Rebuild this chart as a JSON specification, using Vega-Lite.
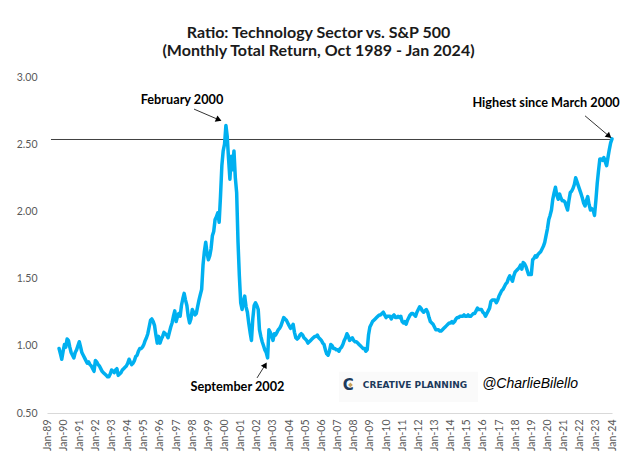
{
  "$schema": "https://vega.github.io/schema/vega-lite/v6.json",
  "width": 565,
  "height": 336,
  "autosize": "none",
  "padding": {"left": 47, "top": 77, "right": 28, "bottom": 56},
  "background": "white",
  "title": {
    "text": ["Ratio: Technology Sector vs. S&P 500", "(Monthly Total Return, Oct 1989 - Jan 2024)"],
    "font": "Lato",
    "fontSize": 16,
    "fontWeight": "bold",
    "color": "#1a1a1a",
    "lineHeight": 18,
    "anchor": "middle",
    "dx": -11,
    "offset": 13
  },
  "config": {"view": {"stroke": null}, "axis": {"grid": false}},
  "datasets": {
    "s": [
      {"d":"1989-10-01","v":0.98},{"d":"1989-11-01","v":0.94},{"d":"1989-12-01","v":0.90},
      {"d":"1990-01-01","v":0.96},{"d":"1990-02-01","v":1.01},{"d":"1990-03-01","v":0.99},{"d":"1990-04-01","v":1.05},{"d":"1990-05-01","v":1.04},{"d":"1990-06-01","v":0.99},{"d":"1990-07-01","v":0.95},{"d":"1990-08-01","v":0.93},{"d":"1990-09-01","v":0.91},{"d":"1990-10-01","v":0.95},{"d":"1990-11-01","v":0.97},{"d":"1990-12-01","v":1.00},
      {"d":"1991-01-01","v":1.03},{"d":"1991-02-01","v":0.99},{"d":"1991-03-01","v":0.95},{"d":"1991-04-01","v":0.93},{"d":"1991-05-01","v":0.91},{"d":"1991-06-01","v":0.89},{"d":"1991-07-01","v":0.87},{"d":"1991-08-01","v":0.88},{"d":"1991-09-01","v":0.86},{"d":"1991-10-01","v":0.85},{"d":"1991-11-01","v":0.83},{"d":"1991-12-01","v":0.81},
      {"d":"1992-01-01","v":0.89},{"d":"1992-02-01","v":0.88},{"d":"1992-03-01","v":0.86},{"d":"1992-04-01","v":0.85},{"d":"1992-05-01","v":0.83},{"d":"1992-06-01","v":0.81},{"d":"1992-07-01","v":0.80},{"d":"1992-08-01","v":0.79},{"d":"1992-09-01","v":0.78},{"d":"1992-10-01","v":0.77},{"d":"1992-11-01","v":0.77},{"d":"1992-12-01","v":0.79},
      {"d":"1993-01-01","v":0.82},{"d":"1993-02-01","v":0.81},{"d":"1993-03-01","v":0.80},{"d":"1993-04-01","v":0.82},{"d":"1993-05-01","v":0.83},{"d":"1993-06-01","v":0.78},{"d":"1993-07-01","v":0.79},{"d":"1993-08-01","v":0.80},{"d":"1993-09-01","v":0.82},{"d":"1993-10-01","v":0.83},{"d":"1993-11-01","v":0.84},{"d":"1993-12-01","v":0.85},
      {"d":"1994-01-01","v":0.87},{"d":"1994-02-01","v":0.90},{"d":"1994-03-01","v":0.88},{"d":"1994-04-01","v":0.86},{"d":"1994-05-01","v":0.87},{"d":"1994-06-01","v":0.89},{"d":"1994-07-01","v":0.92},{"d":"1994-08-01","v":0.93},{"d":"1994-09-01","v":0.96},{"d":"1994-10-01","v":0.98},{"d":"1994-11-01","v":0.98},{"d":"1994-12-01","v":0.99},
      {"d":"1995-01-01","v":1.01},{"d":"1995-02-01","v":1.04},{"d":"1995-03-01","v":1.06},{"d":"1995-04-01","v":1.09},{"d":"1995-05-01","v":1.14},{"d":"1995-06-01","v":1.19},{"d":"1995-07-01","v":1.20},{"d":"1995-08-01","v":1.18},{"d":"1995-09-01","v":1.15},{"d":"1995-10-01","v":1.08},{"d":"1995-11-01","v":1.02},{"d":"1995-12-01","v":1.07},
      {"d":"1996-01-01","v":1.02},{"d":"1996-02-01","v":1.05},{"d":"1996-03-01","v":1.07},{"d":"1996-04-01","v":1.10},{"d":"1996-05-01","v":1.09},{"d":"1996-06-01","v":1.08},{"d":"1996-07-01","v":1.06},{"d":"1996-08-01","v":1.10},{"d":"1996-09-01","v":1.14},{"d":"1996-10-01","v":1.17},{"d":"1996-11-01","v":1.22},{"d":"1996-12-01","v":1.26},
      {"d":"1997-01-01","v":1.18},{"d":"1997-02-01","v":1.22},{"d":"1997-03-01","v":1.24},{"d":"1997-04-01","v":1.22},{"d":"1997-05-01","v":1.30},{"d":"1997-06-01","v":1.35},{"d":"1997-07-01","v":1.39},{"d":"1997-08-01","v":1.34},{"d":"1997-09-01","v":1.30},{"d":"1997-10-01","v":1.22},{"d":"1997-11-01","v":1.17},{"d":"1997-12-01","v":1.20},
      {"d":"1998-01-01","v":1.27},{"d":"1998-02-01","v":1.25},{"d":"1998-03-01","v":1.23},{"d":"1998-04-01","v":1.24},{"d":"1998-05-01","v":1.29},{"d":"1998-06-01","v":1.34},{"d":"1998-07-01","v":1.38},{"d":"1998-08-01","v":1.42},{"d":"1998-09-01","v":1.60},{"d":"1998-10-01","v":1.70},{"d":"1998-11-01","v":1.77},{"d":"1998-12-01","v":1.69},
      {"d":"1999-01-01","v":1.64},{"d":"1999-02-01","v":1.67},{"d":"1999-03-01","v":1.72},{"d":"1999-04-01","v":1.82},{"d":"1999-05-01","v":1.85},{"d":"1999-06-01","v":1.94},{"d":"1999-07-01","v":1.96},{"d":"1999-08-01","v":1.99},{"d":"1999-09-01","v":1.92},{"d":"1999-10-01","v":2.11},{"d":"1999-11-01","v":2.34},{"d":"1999-12-01","v":2.45},
      {"d":"2000-01-01","v":2.50},{"d":"2000-02-01","v":2.64},{"d":"2000-03-01","v":2.56},{"d":"2000-04-01","v":2.39},{"d":"2000-05-01","v":2.24},{"d":"2000-06-01","v":2.41},{"d":"2000-07-01","v":2.31},{"d":"2000-08-01","v":2.45},{"d":"2000-09-01","v":2.25},{"d":"2000-10-01","v":2.14},{"d":"2000-11-01","v":1.77},{"d":"2000-12-01","v":1.52},
      {"d":"2001-01-01","v":1.32},{"d":"2001-02-01","v":1.27},{"d":"2001-03-01","v":1.33},{"d":"2001-04-01","v":1.37},{"d":"2001-05-01","v":1.29},{"d":"2001-06-01","v":1.25},{"d":"2001-07-01","v":1.17},{"d":"2001-08-01","v":1.10},{"d":"2001-09-01","v":1.04},{"d":"2001-10-01","v":1.20},{"d":"2001-11-01","v":1.30},{"d":"2001-12-01","v":1.32},
      {"d":"2002-01-01","v":1.30},{"d":"2002-02-01","v":1.27},{"d":"2002-03-01","v":1.12},{"d":"2002-04-01","v":1.07},{"d":"2002-05-01","v":1.03},{"d":"2002-06-01","v":1.00},{"d":"2002-07-01","v":0.97},{"d":"2002-08-01","v":0.95},{"d":"2002-09-01","v":0.91},{"d":"2002-10-01","v":1.12},{"d":"2002-11-01","v":1.10},{"d":"2002-12-01","v":1.07},
      {"d":"2003-01-01","v":1.04},{"d":"2003-02-01","v":1.09},{"d":"2003-03-01","v":1.08},{"d":"2003-04-01","v":1.10},{"d":"2003-05-01","v":1.12},{"d":"2003-06-01","v":1.13},{"d":"2003-07-01","v":1.15},{"d":"2003-08-01","v":1.18},{"d":"2003-09-01","v":1.21},{"d":"2003-10-01","v":1.20},{"d":"2003-11-01","v":1.19},{"d":"2003-12-01","v":1.17},
      {"d":"2004-01-01","v":1.15},{"d":"2004-02-01","v":1.13},{"d":"2004-03-01","v":1.14},{"d":"2004-04-01","v":1.16},{"d":"2004-05-01","v":1.10},{"d":"2004-06-01","v":1.06},{"d":"2004-07-01","v":1.05},{"d":"2004-08-01","v":1.06},{"d":"2004-09-01","v":1.08},{"d":"2004-10-01","v":1.09},{"d":"2004-11-01","v":1.08},{"d":"2004-12-01","v":1.06},
      {"d":"2005-01-01","v":1.05},{"d":"2005-02-01","v":1.04},{"d":"2005-03-01","v":1.02},{"d":"2005-04-01","v":1.03},{"d":"2005-05-01","v":1.04},{"d":"2005-06-01","v":1.05},{"d":"2005-07-01","v":1.06},{"d":"2005-08-01","v":1.07},{"d":"2005-09-01","v":1.07},{"d":"2005-10-01","v":1.08},{"d":"2005-11-01","v":1.06},{"d":"2005-12-01","v":1.05},
      {"d":"2006-01-01","v":1.04},{"d":"2006-02-01","v":1.02},{"d":"2006-03-01","v":1.01},{"d":"2006-04-01","v":0.97},{"d":"2006-05-01","v":0.94},{"d":"2006-06-01","v":0.93},{"d":"2006-07-01","v":0.96},{"d":"2006-08-01","v":1.01},{"d":"2006-09-01","v":1.00},{"d":"2006-10-01","v":0.98},{"d":"2006-11-01","v":0.98},{"d":"2006-12-01","v":0.97},
      {"d":"2007-01-01","v":0.97},{"d":"2007-02-01","v":0.96},{"d":"2007-03-01","v":0.98},{"d":"2007-04-01","v":0.99},{"d":"2007-05-01","v":1.01},{"d":"2007-06-01","v":1.04},{"d":"2007-07-01","v":1.06},{"d":"2007-08-01","v":1.09},{"d":"2007-09-01","v":1.07},{"d":"2007-10-01","v":1.04},{"d":"2007-11-01","v":1.05},{"d":"2007-12-01","v":1.06},
      {"d":"2008-01-01","v":1.04},{"d":"2008-02-01","v":1.03},{"d":"2008-03-01","v":1.03},{"d":"2008-04-01","v":1.02},{"d":"2008-05-01","v":1.01},{"d":"2008-06-01","v":1.00},{"d":"2008-07-01","v":0.99},{"d":"2008-08-01","v":0.98},{"d":"2008-09-01","v":0.98},{"d":"2008-10-01","v":0.96},{"d":"2008-11-01","v":0.97},{"d":"2008-12-01","v":1.08},
      {"d":"2009-01-01","v":1.14},{"d":"2009-02-01","v":1.16},{"d":"2009-03-01","v":1.18},{"d":"2009-04-01","v":1.19},{"d":"2009-05-01","v":1.20},{"d":"2009-06-01","v":1.21},{"d":"2009-07-01","v":1.22},{"d":"2009-08-01","v":1.23},{"d":"2009-09-01","v":1.23},{"d":"2009-10-01","v":1.24},{"d":"2009-11-01","v":1.25},{"d":"2009-12-01","v":1.23},
      {"d":"2010-01-01","v":1.21},{"d":"2010-02-01","v":1.22},{"d":"2010-03-01","v":1.22},{"d":"2010-04-01","v":1.22},{"d":"2010-05-01","v":1.20},{"d":"2010-06-01","v":1.22},{"d":"2010-07-01","v":1.23},{"d":"2010-08-01","v":1.21},{"d":"2010-09-01","v":1.21},{"d":"2010-10-01","v":1.22},{"d":"2010-11-01","v":1.21},{"d":"2010-12-01","v":1.22},
      {"d":"2011-01-01","v":1.18},{"d":"2011-02-01","v":1.17},{"d":"2011-03-01","v":1.18},{"d":"2011-04-01","v":1.16},{"d":"2011-05-01","v":1.19},{"d":"2011-06-01","v":1.21},{"d":"2011-07-01","v":1.23},{"d":"2011-08-01","v":1.24},{"d":"2011-09-01","v":1.24},{"d":"2011-10-01","v":1.23},{"d":"2011-11-01","v":1.22},{"d":"2011-12-01","v":1.25},
      {"d":"2012-01-01","v":1.27},{"d":"2012-02-01","v":1.29},{"d":"2012-03-01","v":1.28},{"d":"2012-04-01","v":1.26},{"d":"2012-05-01","v":1.25},{"d":"2012-06-01","v":1.26},{"d":"2012-07-01","v":1.27},{"d":"2012-08-01","v":1.25},{"d":"2012-09-01","v":1.21},{"d":"2012-10-01","v":1.18},{"d":"2012-11-01","v":1.17},{"d":"2012-12-01","v":1.16},
      {"d":"2013-01-01","v":1.14},{"d":"2013-02-01","v":1.12},{"d":"2013-03-01","v":1.12},{"d":"2013-04-01","v":1.12},{"d":"2013-05-01","v":1.11},{"d":"2013-06-01","v":1.11},{"d":"2013-07-01","v":1.12},{"d":"2013-08-01","v":1.13},{"d":"2013-09-01","v":1.14},{"d":"2013-10-01","v":1.15},{"d":"2013-11-01","v":1.16},{"d":"2013-12-01","v":1.17},
      {"d":"2014-01-01","v":1.17},{"d":"2014-02-01","v":1.18},{"d":"2014-03-01","v":1.17},{"d":"2014-04-01","v":1.18},{"d":"2014-05-01","v":1.20},{"d":"2014-06-01","v":1.21},{"d":"2014-07-01","v":1.21},{"d":"2014-08-01","v":1.22},{"d":"2014-09-01","v":1.22},{"d":"2014-10-01","v":1.22},{"d":"2014-11-01","v":1.23},{"d":"2014-12-01","v":1.22},
      {"d":"2015-01-01","v":1.22},{"d":"2015-02-01","v":1.23},{"d":"2015-03-01","v":1.22},{"d":"2015-04-01","v":1.22},{"d":"2015-05-01","v":1.23},{"d":"2015-06-01","v":1.24},{"d":"2015-07-01","v":1.24},{"d":"2015-08-01","v":1.26},{"d":"2015-09-01","v":1.28},{"d":"2015-10-01","v":1.27},{"d":"2015-11-01","v":1.27},{"d":"2015-12-01","v":1.27},
      {"d":"2016-01-01","v":1.25},{"d":"2016-02-01","v":1.24},{"d":"2016-03-01","v":1.22},{"d":"2016-04-01","v":1.24},{"d":"2016-05-01","v":1.26},{"d":"2016-06-01","v":1.28},{"d":"2016-07-01","v":1.33},{"d":"2016-08-01","v":1.34},{"d":"2016-09-01","v":1.34},{"d":"2016-10-01","v":1.34},{"d":"2016-11-01","v":1.32},{"d":"2016-12-01","v":1.34},
      {"d":"2017-01-01","v":1.37},{"d":"2017-02-01","v":1.39},{"d":"2017-03-01","v":1.41},{"d":"2017-04-01","v":1.42},{"d":"2017-05-01","v":1.44},{"d":"2017-06-01","v":1.46},{"d":"2017-07-01","v":1.47},{"d":"2017-08-01","v":1.50},{"d":"2017-09-01","v":1.52},{"d":"2017-10-01","v":1.50},{"d":"2017-11-01","v":1.48},{"d":"2017-12-01","v":1.52},
      {"d":"2018-01-01","v":1.55},{"d":"2018-02-01","v":1.56},{"d":"2018-03-01","v":1.57},{"d":"2018-04-01","v":1.58},{"d":"2018-05-01","v":1.60},{"d":"2018-06-01","v":1.57},{"d":"2018-07-01","v":1.62},{"d":"2018-08-01","v":1.61},{"d":"2018-09-01","v":1.59},{"d":"2018-10-01","v":1.56},{"d":"2018-11-01","v":1.53},{"d":"2018-12-01","v":1.53},
      {"d":"2019-01-01","v":1.53},{"d":"2019-02-01","v":1.64},{"d":"2019-03-01","v":1.65},{"d":"2019-04-01","v":1.67},{"d":"2019-05-01","v":1.66},{"d":"2019-06-01","v":1.68},{"d":"2019-07-01","v":1.69},{"d":"2019-08-01","v":1.70},{"d":"2019-09-01","v":1.72},{"d":"2019-10-01","v":1.74},{"d":"2019-11-01","v":1.77},{"d":"2019-12-01","v":1.82},
      {"d":"2020-01-01","v":1.87},{"d":"2020-02-01","v":1.94},{"d":"2020-03-01","v":1.97},{"d":"2020-04-01","v":2.01},{"d":"2020-05-01","v":2.09},{"d":"2020-06-01","v":2.14},{"d":"2020-07-01","v":2.18},{"d":"2020-08-01","v":2.12},{"d":"2020-09-01","v":2.09},{"d":"2020-10-01","v":2.13},{"d":"2020-11-01","v":2.10},{"d":"2020-12-01","v":2.08},
      {"d":"2021-01-01","v":2.08},{"d":"2021-02-01","v":2.07},{"d":"2021-03-01","v":2.04},{"d":"2021-04-01","v":2.01},{"d":"2021-05-01","v":2.08},{"d":"2021-06-01","v":2.14},{"d":"2021-07-01","v":2.15},{"d":"2021-08-01","v":2.17},{"d":"2021-09-01","v":2.20},{"d":"2021-10-01","v":2.25},{"d":"2021-11-01","v":2.22},{"d":"2021-12-01","v":2.19},
      {"d":"2022-01-01","v":2.16},{"d":"2022-02-01","v":2.13},{"d":"2022-03-01","v":2.10},{"d":"2022-04-01","v":2.06},{"d":"2022-05-01","v":2.04},{"d":"2022-06-01","v":2.08},{"d":"2022-07-01","v":2.11},{"d":"2022-08-01","v":2.05},{"d":"2022-09-01","v":2.01},{"d":"2022-10-01","v":2.02},{"d":"2022-11-01","v":2.01},{"d":"2022-12-01","v":1.97},
      {"d":"2023-01-01","v":2.08},{"d":"2023-02-01","v":2.21},{"d":"2023-03-01","v":2.30},{"d":"2023-04-01","v":2.39},{"d":"2023-05-01","v":2.39},{"d":"2023-06-01","v":2.38},{"d":"2023-07-01","v":2.40},{"d":"2023-08-01","v":2.37},{"d":"2023-09-01","v":2.34},{"d":"2023-10-01","v":2.40},{"d":"2023-11-01","v":2.46},{"d":"2023-12-01","v":2.51},
      {"d":"2024-01-01","v":2.54}
    ]
  },
  "encoding": {
    "x": {
      "field": "d",
      "type": "temporal",
      "scale": {"type": "utc", "domain": [{"year": 1989, "month": "jan", "date": 1, "utc": true}, {"year": 2024, "month": "jan", "date": 1, "utc": true}], "nice": false},
      "axis": {
        "title": null,
        "format": "%b-%y",
        "tickCount": {"interval": "year", "step": 1},
        "labelAngle": -90,
        "labelFlush": false,
        "labelOverlap": false,
        "ticks": false,
        "domainColor": "#d9d9d9",
        "domainWidth": 1,
        "labelColor": "#595959",
        "labelFont": "Lato",
        "labelFontSize": 10.5,
        "labelPadding": 6
      }
    },
    "y": {
      "field": "v",
      "type": "quantitative",
      "scale": {"domain": [0.5, 3], "nice": false, "zero": false},
      "axis": {
        "title": null,
        "values": [0.5, 1, 1.5, 2, 2.5, 3],
        "format": ".2f",
        "domain": false,
        "ticks": false,
        "labelPadding": 10,
        "labelColor": "#595959",
        "labelFont": "Lato",
        "labelFontSize": 10.5
      }
    }
  },
  "layer": [
    {
      "data": {"values": [{"d": "2007-02-03", "d2": "2015-09-13", "v": 0.806, "v2": 0.582}]},
      "mark": {"type": "rect", "color": "#fafafa"},
      "encoding": {"x2": {"field": "d2"}, "y2": {"field": "v2"}}
    },
    {
      "data": {"values": [{"d": "1989-04-01", "d2": "2024-01-01", "v": 2.535}]},
      "mark": {"type": "rule", "color": "#404040", "strokeWidth": 1},
      "encoding": {"x2": {"field": "d2"}}
    },
    {
      "data": {"name": "s"},
      "mark": {"type": "line", "color": "#00B0F0", "strokeWidth": 3.5, "strokeJoin": "round", "strokeCap": "round"},
      "encoding": {}
    },
    {
      "data": {"values": [
        {"d": "1998-02-10", "v": 2.761, "d2": "1999-08-23", "v2": 2.682},
        {"d": "2002-01-05", "v": 0.761, "d2": "2002-07-09", "v2": 0.858},
        {"d": "2022-05-01", "v": 2.711, "d2": "2023-10-27", "v2": 2.560}
      ]},
      "mark": {"type": "rule", "color": "#000000", "strokeWidth": 0.8},
      "encoding": {"x2": {"field": "d2"}, "y2": {"field": "v2"}}
    },
    {
      "data": {"values": [
        {"d": "1999-08-23", "v": 2.682, "a": 113},
        {"d": "2002-07-09", "v": 0.858, "a": 31},
        {"d": "2023-10-27", "v": 2.560, "a": 130}
      ]},
      "mark": {"type": "point", "shape": "triangle-up", "filled": true, "color": "#000000", "size": 45, "opacity": 1},
      "encoding": {"angle": {"field": "a", "type": "quantitative", "scale": null}}
    },
    {
      "data": {"values": [
        {"d": "1997-05-13", "v": 2.828, "t": "February 2000"},
        {"d": "2000-10-19", "v": 0.694, "t": "September 2002"},
        {"d": "2019-12-01", "v": 2.806, "t": "Highest since March 2000"}
      ]},
      "mark": {"type": "text", "font": "Lato", "fontSize": 12.7, "fontWeight": "bold", "color": "#000000", "align": "center", "baseline": "middle"},
      "encoding": {"text": {"field": "t"}}
    },
    {
      "data": {"values": [{"d": "2007-09-01", "v": 0.709, "t": "C"}]},
      "mark": {"type": "text", "font": "DejaVu Sans", "fontSize": 15, "fontWeight": "bold", "color": "#1d3a5c", "align": "center", "baseline": "middle"},
      "encoding": {"text": {"field": "t"}}
    },
    {
      "data": {"values": [{"d": "2007-10-18", "v": 0.709}]},
      "mark": {"type": "point", "shape": "diamond", "filled": true, "color": "#c8a15a", "size": 22, "opacity": 1},
      "encoding": {}
    },
    {
      "data": {"values": [{"d": "2011-10-19", "v": 0.709, "t": "CREATIVE PLANNING"}]},
      "mark": {"type": "text", "font": "DejaVu Sans", "fontSize": 9, "fontWeight": "bold", "color": "#1d3a5c", "align": "center", "baseline": "middle"},
      "encoding": {"text": {"field": "t"}}
    },
    {
      "data": {"values": [{"d": "2018-12-05", "v": 0.716, "t": "@CharlieBilello"}]},
      "mark": {"type": "text", "font": "Liberation Sans", "fontSize": 14, "fontStyle": "italic", "color": "#000000", "align": "center", "baseline": "middle"},
      "encoding": {"text": {"field": "t"}}
    }
  ]
}
